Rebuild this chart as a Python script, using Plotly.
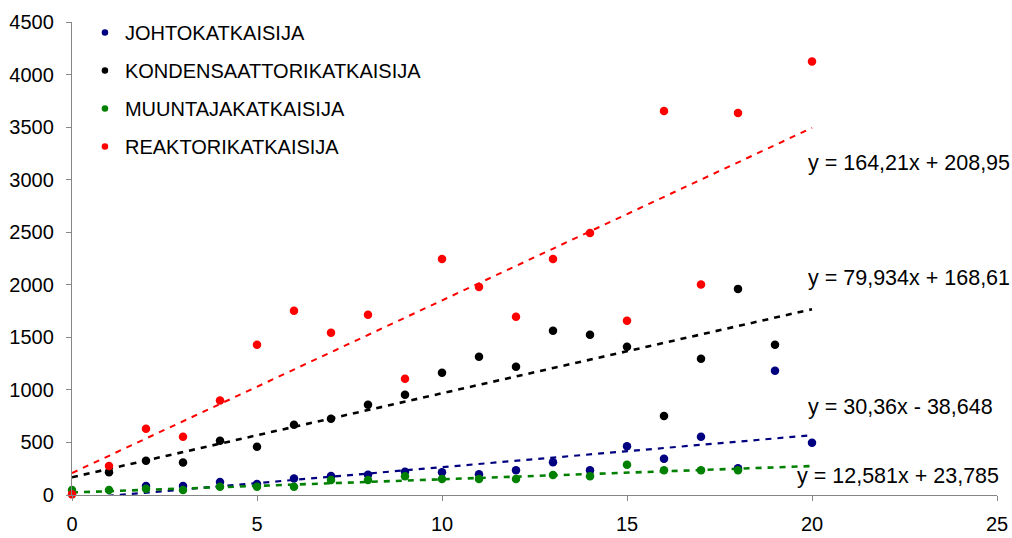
import plotly.graph_objects as go

# Series names and colours
names = ["JOHTOKATKAISIJA", "KONDENSAATTORIKATKAISIJA", "MUUNTAJAKATKAISIJA", "REAKTORIKATKAISIJA"]
colors = ["#000080", "#000000", "#008000", "#FF0000"]

# Observations per breaker type
johto_x = [2, 3, 4, 5, 6, 7, 8, 9, 10, 11, 12, 13, 14, 15, 16, 17, 18, 19, 20]
johto_y = [86, 86, 124, 105, 158, 180, 193, 222, 216, 197, 235, 311, 235, 463, 345, 554, 254, 1182, 497]

kond_x = [1, 2, 3, 4, 5, 6, 7, 8, 9, 10, 11, 12, 13, 14, 15, 16, 17, 18, 19]
kond_y = [217, 326, 310, 516, 459, 669, 726, 858, 953, 1163, 1315, 1220, 1562, 1524, 1410, 751, 1296, 1961, 1429]

muunt_x = [0, 1, 2, 3, 4, 5, 6, 7, 8, 9, 10, 11, 12, 13, 14, 15, 16, 17, 18]
muunt_y = [48, 48, 60, 48, 79, 79, 79, 143, 143, 178, 152, 152, 152, 190, 178, 288, 235, 235, 235]

reakt_x = [0, 1, 2, 3, 4, 5, 6, 7, 8, 9, 10, 11, 12, 13, 14, 15, 16, 17, 18, 20]
reakt_y = [6, 276, 631, 554, 900, 1429, 1752, 1543, 1714, 1106, 2246, 1980, 1695, 2246, 2493, 1657, 3653, 2003, 3634, 4125]

# Linear trend coefficients and their labels
slopes = [30.36, 79.934, 12.581, 164.21]
intercepts = [-38.648, 168.61, 23.785, 208.95]
eq_labels = ["y = 30,36x - 38,648", "y = 79,934x + 168,61", "y = 12,581x + 23,785", "y = 164,21x + 208,95"]
trend_range = [0, 20]

# Axis ticks
x_ticks = [0, 5, 10, 15, 20, 25]
y_ticks = [0, 500, 1000, 1500, 2000, 2500, 3000, 3500, 4000, 4500]

FONT = "Liberation Sans, Arial, sans-serif"

series = [(johto_x, johto_y), (kond_x, kond_y), (muunt_x, muunt_y), (reakt_x, reakt_y)]
trend_widths = [2.2, 2.6, 2.6, 2.0]

fig = go.Figure()

# Trend lines
for (sx, sy), a, b, col, w in zip(series, slopes, intercepts, colors, trend_widths):
    tx = trend_range
    ty = [a * v + b for v in tx]
    fig.add_trace(go.Scatter(x=tx, y=ty, mode="lines", showlegend=False, hoverinfo="skip",
                             line=dict(color=col, width=w, dash="6px,6px")))

# Data points
for (sx, sy), name, col in zip(series, names, colors):
    fig.add_trace(go.Scatter(x=sx, y=sy, mode="markers", name=name, showlegend=False,
                             cliponaxis=False,
                             marker=dict(color=col, size=8.5, line=dict(width=0))))

# Legend entries (smaller symbols)
for i, (name, col) in enumerate(zip(names, colors)):
    fig.add_trace(go.Scatter(x=[None], y=[None], mode="markers", name=name, legendgroup=f"g{i}",
                             marker=dict(color=col, size=6.5)))

# Trend equation labels
label_pos = [(19.84, 837), (19.84, 2063), (19.54, 181), (19.84, 3156)]
for (lx, ly), txt in zip(label_pos, eq_labels):
    fig.add_annotation(x=lx, y=ly, xref="x", yref="y", text=txt, showarrow=False,
                       xanchor="left", yanchor="middle",
                       font=dict(family=FONT, size=21.5, color="#000000"))

axis_common = dict(showgrid=False, zeroline=False, showline=True, linecolor="#868686", linewidth=1.3,
                   ticks="outside", ticklen=5, tickwidth=1.3, tickcolor="#868686", automargin=False,
                   tickfont=dict(family=FONT, size=20, color="#000000"))

fig.update_xaxes(range=[0, 25], tickvals=x_ticks, ticklabelstandoff=6, **axis_common)
fig.update_yaxes(range=[0, 4500], tickvals=y_ticks, ticklabelstandoff=8, **axis_common)

fig.update_layout(
    width=1012, height=538,
    margin=dict(l=72, r=15, t=22, b=43),
    paper_bgcolor="#FFFFFF", plot_bgcolor="#FFFFFF",
    showlegend=True,
    legend=dict(x=0.014, y=1.019, xanchor="left", yanchor="top", bgcolor="rgba(0,0,0,0)",
                font=dict(family=FONT, size=20, color="#000000"),
                tracegroupgap=9, traceorder="grouped", itemwidth=30),
)

fig.write_html("out.html")
